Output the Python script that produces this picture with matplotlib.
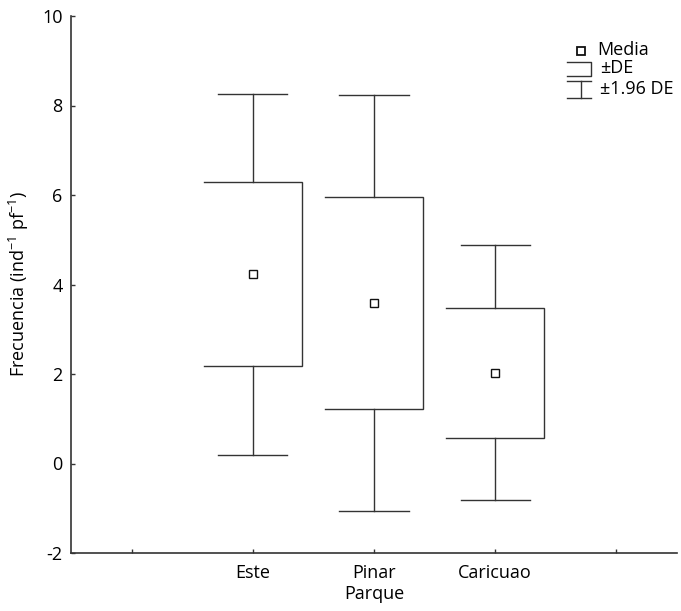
import matplotlib
matplotlib.use("Agg")
import matplotlib.pyplot as plt
from matplotlib.lines import Line2D

# === Data (mean and standard deviation per park) ===
parks = ["Este", "Pinar", "Caricuao"]
means = [4.23, 3.58, 2.03]
sds = [2.06, 2.37, 1.45]
tick_labels = ["", "Este", "Pinar", "Caricuao", ""]

# === Style ===
plt.rcParams["font.family"] = ["Open Sans", "DejaVu Sans"]
plt.rcParams["mathtext.fontset"] = "custom"
plt.rcParams["mathtext.rm"] = "Open Sans"
plt.rcParams["axes.unicode_minus"] = False
LINE = "#333333"
LW = 1.0
BOX_W = 0.81
CAP_W = 0.57
FS = 13
W, H = 681, 611

fig = plt.figure(figsize=(W / 100, H / 100), dpi=100)
ax = fig.add_axes([71 / W, 1 - 553 / H, (677 - 71) / W, (553 - 16) / H])

for i, (m, s) in enumerate(zip(means, sds)):
    p = i + 1
    lo, hi = m - s, m + s
    wlo, whi = m - 1.96 * s, m + 1.96 * s
    # box open on the left side
    ax.plot([p - BOX_W / 2, p + BOX_W / 2, p + BOX_W / 2, p - BOX_W / 2],
            [hi, hi, lo, lo], color=LINE, lw=LW, solid_joinstyle="miter")
    # whiskers and caps
    ax.plot([p, p], [hi, whi], color=LINE, lw=LW)
    ax.plot([p, p], [lo, wlo], color=LINE, lw=LW)
    ax.plot([p - CAP_W / 2, p + CAP_W / 2], [whi, whi], color=LINE, lw=LW)
    ax.plot([p - CAP_W / 2, p + CAP_W / 2], [wlo, wlo], color=LINE, lw=LW)
    ax.plot(p, m, marker="s", ms=6, mfc="white", mec="#111111", mew=1.0)

ax.set_xlim(-0.5, 4.5)
ax.set_ylim(-2, 10)
ax.set_xticks(range(len(tick_labels)))
ax.set_xticklabels(tick_labels)
ax.set_yticks(range(-2, 11, 2))
ax.tick_params(direction="in", length=3, width=1, color=LINE, labelsize=FS)
ax.tick_params(axis="x", pad=8)
ax.tick_params(axis="y", pad=6)
for side in ["top", "right"]:
    ax.spines[side].set_visible(False)
for side in ["left", "bottom"]:
    ax.spines[side].set_color(LINE)
    ax.spines[side].set_linewidth(1.2)

ax.set_xlabel("Parque", fontsize=FS, labelpad=2)
ax.set_ylabel(r"Frecuencia (ind$^{\mathregular{-1}}$ pf$^{\mathregular{-1}}$)",
              fontsize=FS, labelpad=8)


# === Legend drawn by hand (figure pixel coords) ===
def fx(px):
    return px / W


def fy(py):
    return 1 - py / H


def seg(xs, ys):
    fig.add_artist(Line2D([fx(x) for x in xs], [fy(y) for y in ys],
                          transform=fig.transFigure, color=LINE, lw=LW))


fig.add_artist(Line2D([fx(581)], [fy(50.5)], transform=fig.transFigure,
                      marker="s", ms=6, mfc="white", mec="#111111", mew=1.3))
fig.text(fx(597), fy(50), "Media", fontsize=FS, va="center", ha="left")
seg([567, 591, 591, 567], [62, 62, 75.5, 75.5])
fig.text(fx(600), fy(68), "±DE", fontsize=FS, va="center", ha="left")
seg([567, 591], [81, 81])
seg([580.5, 580.5], [81, 98])
seg([567, 591], [98, 98])
fig.text(fx(600), fy(89), "±1.96 DE", fontsize=FS, va="center", ha="left")

fig.savefig("out.png", dpi=100)
